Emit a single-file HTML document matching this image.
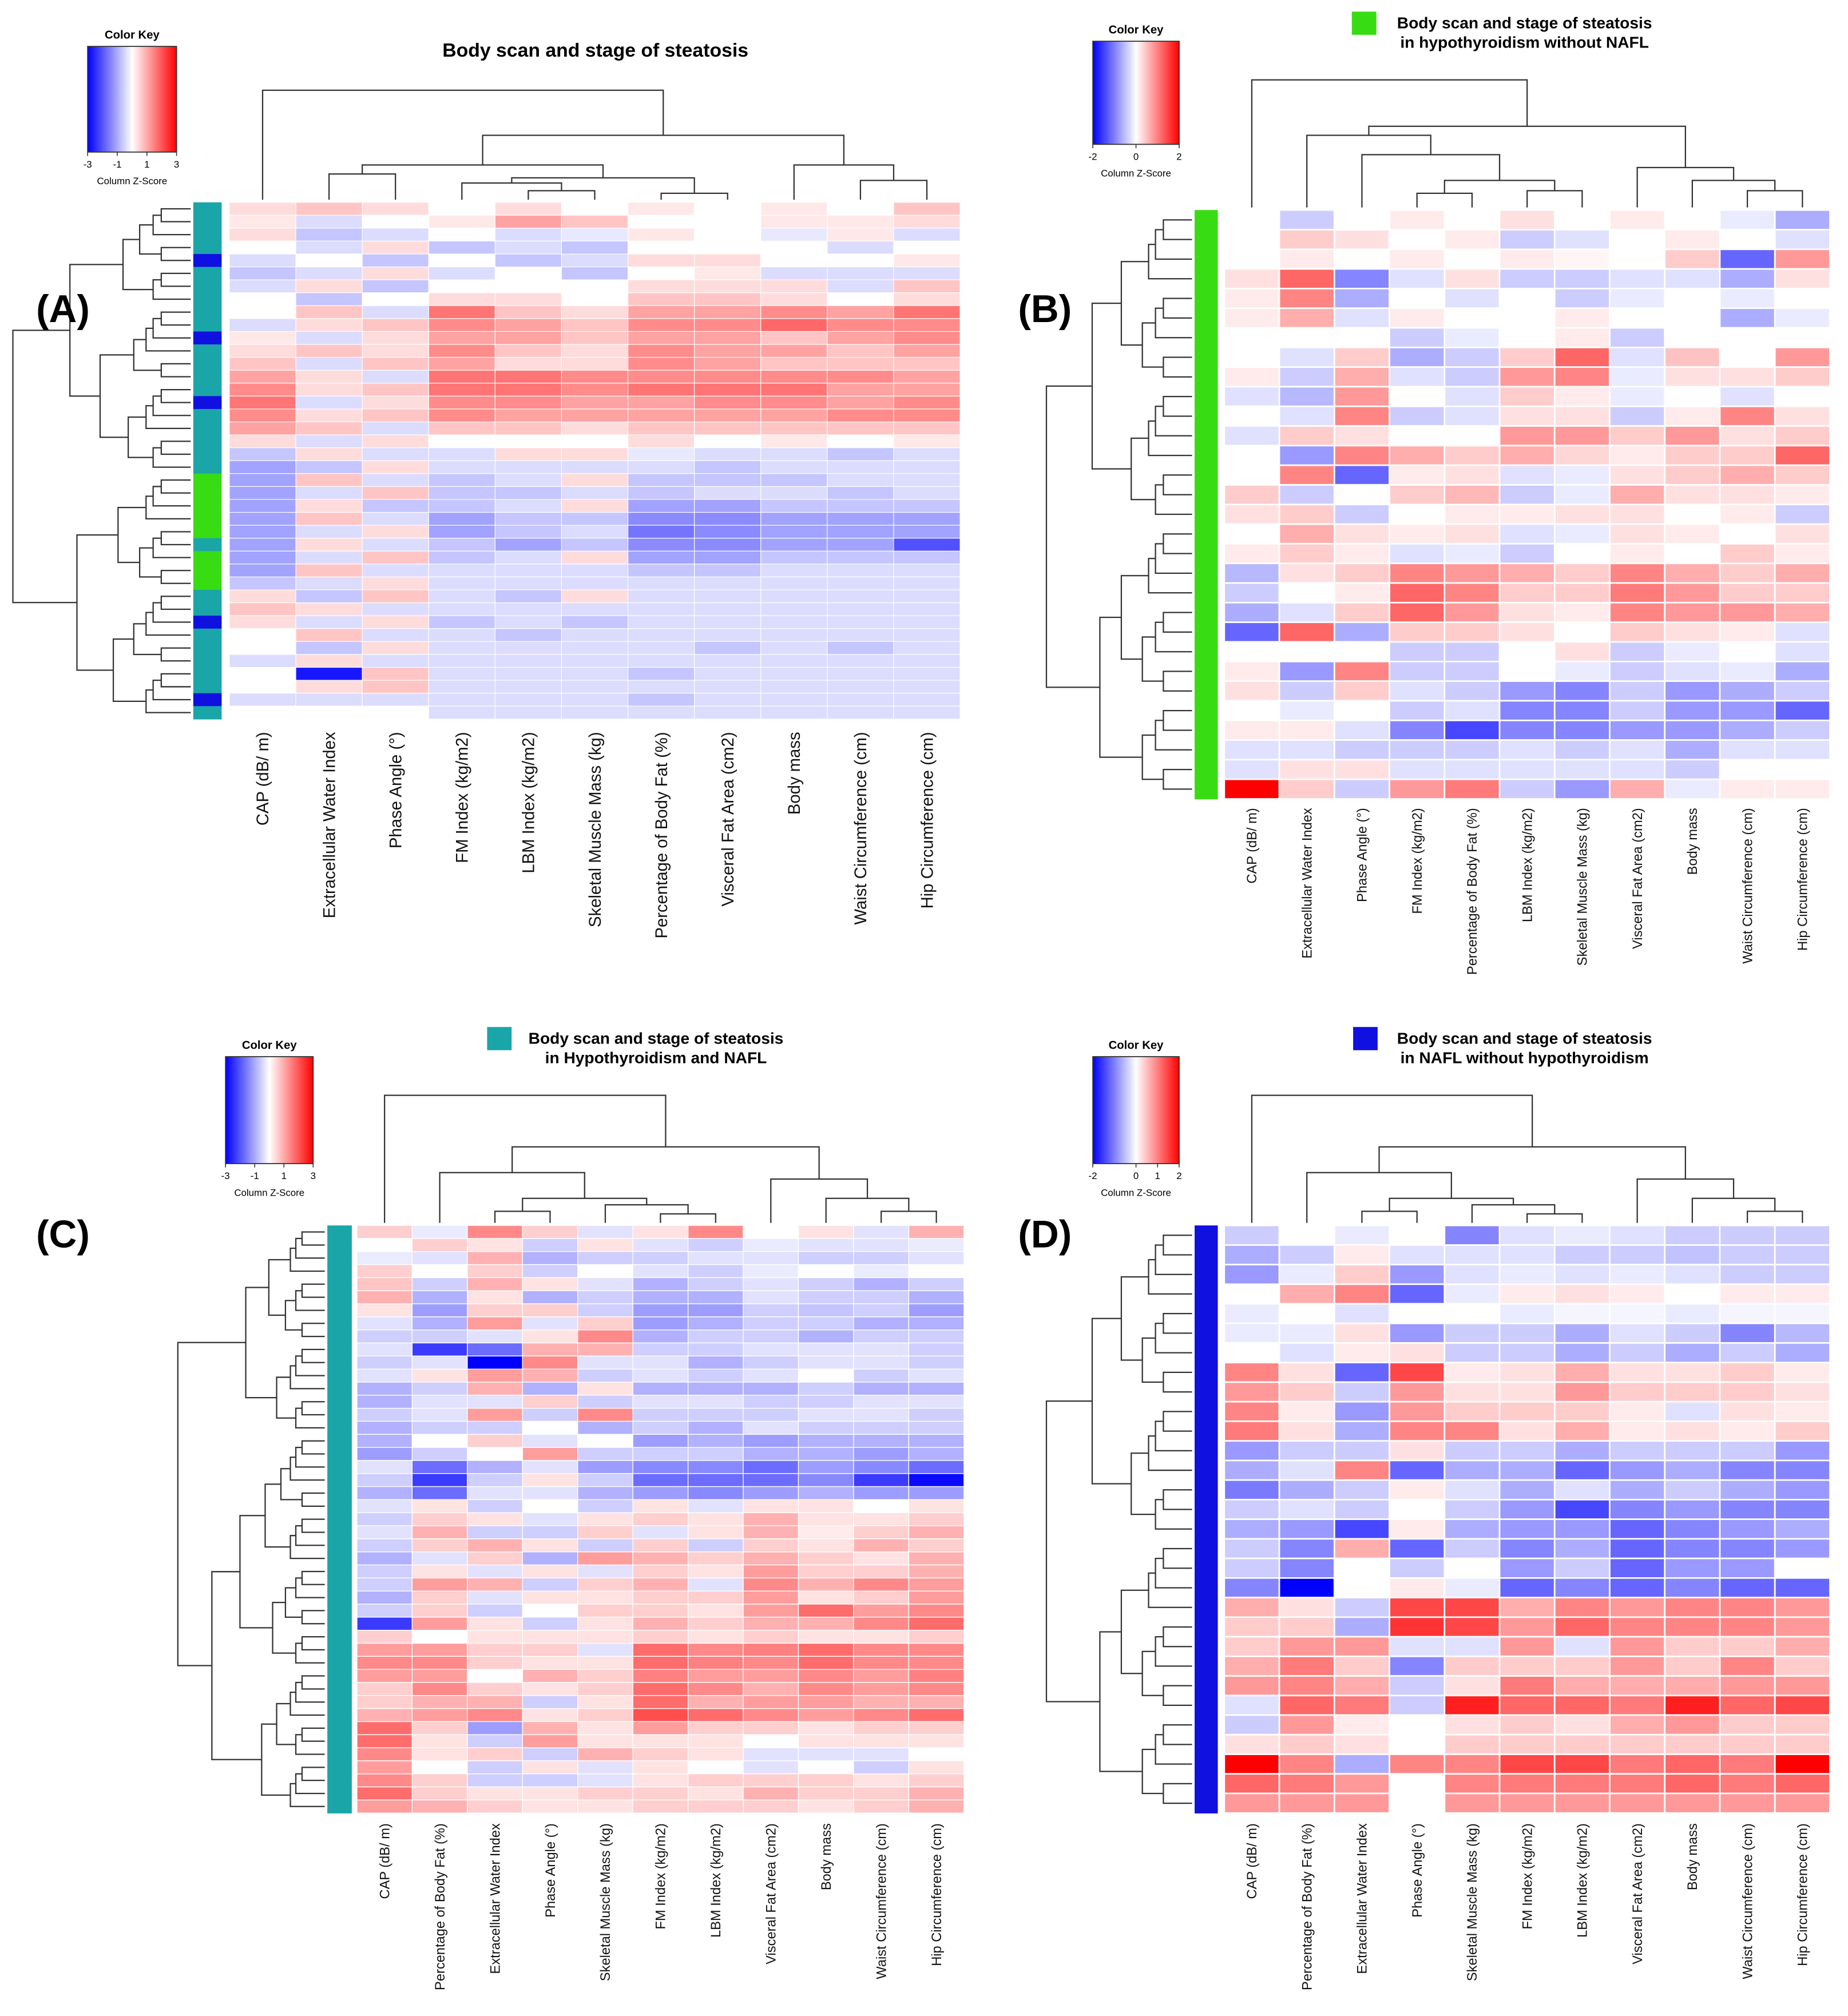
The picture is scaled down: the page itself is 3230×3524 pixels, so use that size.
<!DOCTYPE html>
<html><head><meta charset="utf-8"><style>
html,body{margin:0;padding:0;background:#fff;}
svg{display:block;font-family:"Liberation Sans",sans-serif;}
</style></head><body>
<svg id="fig" xmlns="http://www.w3.org/2000/svg" width="3230" height="3524" viewBox="0 0 1434 1564.5">
<defs>
<linearGradient id="kg" x1="0" x2="1" y1="0" y2="0">
<stop offset="0" stop-color="#0000ff"/><stop offset="0.5" stop-color="#ffffff"/><stop offset="1" stop-color="#ff0000"/>
</linearGradient>
</defs>
<rect width="1434" height="1565" fill="#fff"/>
<g id="layer"></g>
</svg>
<script>
// ---------- DATA ----------
const colsA = ["CAP (dB/ m)","Extracellular Water Index","Phase Angle (°)","FM Index (kg/m2)","LBM Index (kg/m2)","Skeletal Muscle Mass (kg)","Percentage of Body Fat (%)","Visceral Fat Area (cm2)","Body mass","Waist Circumference (cm)","Hip Circumference (cm)"];
const colsB = ["CAP (dB/ m)","Extracellular Water Index","Phase Angle (°)","FM Index (kg/m2)","Percentage of Body Fat (%)","LBM Index (kg/m2)","Skeletal Muscle Mass (kg)","Visceral Fat Area (cm2)","Body mass","Waist Circumference (cm)","Hip Circumference (cm)"];
const colsC = ["CAP (dB/ m)","Percentage of Body Fat (%)","Extracellular Water Index","Phase Angle (°)","Skeletal Muscle Mass (kg)","FM Index (kg/m2)","LBM Index (kg/m2)","Visceral Fat Area (cm2)","Body mass","Waist Circumference (cm)","Hip Circumference (cm)"];
const colsD = colsC;
const keyTicksA = ["-3","-1","1","3"];
const keyTicksB = ["-2","0","2"];
const keyTicksD = ["-2","0","1","2"];

const valuesA = [
[0.3,0.5,0.3,0,0.3,0,0.2,0,0.2,0,0.5],[0.2,-0.3,0,0.2,0.8,0.5,0,0,0.2,0.2,0.3],[0.3,-0.5,-0.3,0,-0.3,-0.2,0.2,0,-0.2,0.2,-0.3],[0,-0.3,0.3,-0.5,-0.3,-0.5,0,0,0,-0.3,0],
[-0.3,0,-0.5,0,-0.5,-0.3,0.3,0.3,0,0,0.2],[-0.5,-0.3,0.3,-0.3,0,-0.5,0,0.2,-0.3,-0.3,-0.3],[-0.3,0.3,-0.5,0,0,0,0.3,0.3,0.3,-0.3,0.5],[0,-0.5,0,0.3,0.3,0,0.5,0.5,0.3,0,0.3],
[0,0.5,-0.3,1.2,0.5,0.3,0.8,0.8,1,0.8,1.2],[-0.3,0.3,0.5,1,0.8,0.5,1,1,1.3,1,1],[0.2,-0.3,0.3,0.8,0.8,0.5,0.8,0.8,0.5,0.8,1],[0.3,0.5,0.3,1,0.5,0.3,1,0.8,0.8,0.5,0.8],
[0.5,-0.3,0.5,0.8,0.3,0.3,1,0.8,0.5,0.5,0.5],[0.8,0.3,-0.3,1.2,1.2,1,1,1,1,1,0.8],[1,0.3,0.5,1.2,1.2,1,1.2,1.2,1.2,0.8,0.8],[1.2,-0.3,0.3,1,1,0.8,0.8,1,1,0.8,1],
[1,0.3,0.5,1,0.8,0.8,0.8,0.8,0.8,1,1],[0.8,0.5,-0.3,0.5,0.5,0.3,0.5,0.5,0.5,0.5,0.5],[0.3,-0.3,0.3,0,0,0,0.3,0,0.2,0,0.2],[-0.5,0.3,-0.3,-0.3,0.3,0.3,-0.2,-0.3,-0.3,-0.5,-0.3],
[-0.8,-0.5,0.3,-0.3,-0.3,-0.3,-0.3,-0.5,-0.3,-0.3,-0.3],[-0.8,0.5,-0.3,-0.5,-0.3,0.3,-0.5,-0.5,-0.5,-0.3,-0.3],[-0.8,-0.3,0.5,-0.5,-0.5,-0.3,-0.5,-0.3,-0.3,-0.5,-0.3],[-0.8,0.3,-0.5,-0.5,-0.3,0.3,-0.8,-0.8,-0.5,-0.5,-0.5],
[-0.8,0.5,-0.3,-0.8,-0.5,-0.5,-1,-1,-0.8,-0.8,-0.8],[-0.8,-0.3,0.3,-0.8,-0.5,-0.3,-1.2,-1,-0.8,-0.8,-0.8],[-0.8,0.3,-0.3,-0.5,-0.8,-0.5,-1,-1,-0.8,-0.8,-1.5],[-0.8,-0.3,0.5,-0.5,-0.3,0.3,-0.8,-0.8,-0.5,-0.5,-0.5],
[-0.8,0.5,-0.3,-0.3,-0.3,-0.3,-0.5,-0.5,-0.3,-0.3,-0.3],[-0.5,-0.3,0.3,-0.3,-0.3,-0.3,-0.3,-0.3,-0.3,-0.3,-0.3],[0.3,-0.5,0.5,-0.3,-0.5,0.3,-0.3,-0.3,-0.3,-0.3,-0.3],[0.5,0.3,-0.3,-0.3,-0.3,-0.3,-0.3,-0.3,-0.3,-0.3,-0.3],
[0.3,-0.3,0.3,-0.5,-0.3,-0.5,-0.3,-0.3,-0.3,-0.3,-0.3],[0,0.5,-0.3,-0.3,-0.5,-0.3,-0.3,-0.3,-0.3,-0.3,-0.3],[0,-0.5,0.3,-0.3,-0.3,-0.3,-0.3,-0.5,-0.3,-0.5,-0.3],[-0.3,0.3,-0.3,-0.3,-0.3,-0.3,-0.3,-0.3,-0.3,-0.3,-0.3],
[0,-2,0.5,-0.3,-0.3,-0.3,-0.5,-0.3,-0.3,-0.3,-0.3],[0,0.3,0.5,-0.3,-0.3,-0.3,-0.3,-0.3,-0.3,-0.3,-0.3],[-0.3,-0.3,-0.3,-0.3,-0.3,-0.3,-0.5,-0.3,-0.3,-0.3,-0.3],[0,0,0,-0.3,-0.3,-0.3,-0.3,-0.3,-0.3,-0.3,-0.3]];
const groupsA = "ttttbtttttbttttbtttttgggggtgggttbtttttbt";

const valuesB = [
[0,-0.5,0,0.2,0,0.3,0,0.2,0,-0.2,-0.8],[0,0.5,0.3,0,0.2,-0.5,-0.3,0,0.2,0,-0.3],[0,0.2,0,0.2,0,0.2,0.1,0,0.5,-1.5,1],[0.3,1.5,-1.2,-0.3,0.3,-0.5,-0.5,-0.3,-0.3,-0.8,0.3],
[0.2,1.2,-0.8,0,-0.3,0,-0.5,-0.2,0,-0.2,0],[0.2,0.8,-0.3,0.2,0,0,0.2,0,0,-0.8,-0.2],[0,0,0,-0.5,-0.2,0,0.2,-0.5,0,0,0],[0,-0.3,0.5,-0.8,-0.5,0.5,1.5,-0.3,0.6,0,1],
[0.2,-0.5,0.8,-0.3,-0.5,1,1.2,-0.2,0.3,0.3,0.5],[-0.3,-0.7,1,0,-0.3,0.5,0.2,-0.2,0,-0.3,0],[0,-0.3,1.2,-0.5,-0.3,0.3,0.3,-0.5,0.2,1.2,0.3],[-0.3,0.5,0.3,0,0,1,1,0.5,1,0.3,0.5],
[0,-1,1.2,0.8,0.5,0.8,0.4,0.2,0.5,0.5,1.5],[0,1.2,-1.5,0.2,0.3,-0.3,-0.2,0.3,0.5,0.8,0.5],[0.5,-0.5,0,0.5,0.7,-0.5,-0.2,0.8,0.3,0.3,0.2],[0.3,0.5,-0.5,0,0.2,0.2,0.3,0.3,0,0.2,-0.5],
[0,0.8,0.3,0.2,0.3,-0.3,-0.2,0.3,0.2,0,0.3],[0.2,0.5,0.2,-0.3,-0.2,-0.5,0,0.2,0,0.5,0.2],[-0.7,0.3,0.5,1.2,1,0.8,0.5,1.2,0.8,0.5,0.8],[-0.5,0,0.2,1.5,1.2,0.5,0.5,1.3,1,0.5,0.5],
[-0.8,-0.3,0.5,1.5,1,0.3,0.2,1.2,1,1,0.8],[-1.5,1.5,-0.8,0.5,0.5,0.3,0,0.5,0.3,0.2,-0.3],[0,0,0,-0.5,-0.5,0,0.3,-0.5,-0.2,0,-0.3],[0.2,-1,1.2,-0.5,-0.5,0,-0.2,-0.5,-0.3,-0.2,-0.8],
[0.3,-0.5,0.5,-0.3,-0.5,-1,-1.2,-0.5,-1,-0.8,-0.5],[0,-0.2,0,-0.5,-0.3,-1.2,-1.2,-0.5,-1,-1,-1.5],[0.2,0.2,-0.3,-1.2,-1.8,-1.2,-1.2,-1,-1,-0.8,-0.5],[-0.3,-0.3,-0.5,-0.5,-0.5,-0.3,-0.5,-0.3,-0.8,-0.3,-0.3],
[-0.3,0.3,0.3,-0.3,-0.3,-0.3,-0.3,-0.3,-0.5,0,0],[2.8,0.5,-0.5,1,1.3,-0.5,-1,0.8,-0.2,0.2,0.2]];

const valuesC = [
[0.5,-0.2,1.2,0.5,-0.3,0.3,1.2,0,0.3,-0.3,0.8],[0,0.5,0.3,-0.5,0.3,-0.3,-0.5,-0.2,-0.3,-0.3,-0.2],[-0.2,-0.3,0.8,-0.8,-0.5,-0.5,-0.3,-0.3,-0.5,-0.5,-0.3],[0.5,0,0.5,-0.5,0,-0.3,-0.5,-0.2,0,-0.2,0],
[0.6,-0.5,0.8,0.3,-0.3,-0.8,-0.5,-0.3,-0.5,-0.8,-0.5],[0.8,-0.8,0.3,-0.8,-0.5,-0.8,-0.8,-0.3,-0.5,-0.5,-0.8],[0.3,-1,0.5,0.5,-0.5,-1,-1,-0.5,-0.6,-0.5,-1],[-0.3,-0.8,1,-0.3,0.5,-1,-0.8,-0.5,-0.5,-0.8,-0.8],
[-0.5,-0.5,-0.3,0.3,1.2,-0.8,-0.5,-0.5,-0.8,-0.5,-0.5],[-0.3,-2,-1.5,0.8,0.8,-0.5,-0.5,-0.3,-0.3,-0.3,-0.5],[-0.5,-0.3,-2.8,1.2,-0.3,-0.3,-0.8,-0.5,-0.3,-0.3,-0.5],[-0.3,0.3,1,0.8,-0.5,-0.3,-0.5,-0.3,0,-0.5,-0.3],
[-0.8,-0.5,0.8,-0.8,0.3,-0.8,-0.8,-0.8,-0.5,-0.8,-0.8],[-0.8,-0.3,-0.3,0.5,-0.5,-0.3,-0.3,-0.5,-0.5,-0.3,-0.3],[-0.5,-0.3,1,-0.5,1.2,-0.5,-0.5,-0.5,-0.3,-0.3,-0.5],[-0.8,-0.5,-0.5,0,-0.8,-0.5,-0.8,-0.3,-0.5,-0.5,-0.5],
[-0.8,0,0.5,-0.3,0,-1,-0.8,-1,-0.8,-0.8,-0.8],[-1,-0.5,0,1,-0.5,-0.5,-0.5,-0.8,-0.8,-1,-0.8],[-0.3,-1.5,-0.8,-0.3,-1,-1.2,-1.2,-1.5,-1,-1.2,-1.5],[-0.5,-2,-0.5,0.3,-0.5,-1.5,-1.5,-1.5,-1.2,-2,-2.5],
[-0.8,-1.5,-0.3,-0.3,-0.8,-1,-1.2,-1,-0.8,-1,-1],[-0.3,0.3,-0.5,0,-0.5,0.3,-0.3,0.3,0.3,0,0.3],[-0.5,0.5,0.3,-0.3,0.3,0.5,0.3,0.8,0.3,0.3,0.5],[-0.3,0.8,-0.5,-0.5,0.5,-0.3,0.3,0.8,0.2,0.5,0.8],
[-0.5,0.5,0.8,0.3,-0.5,0.5,-0.5,0.5,0.3,0.8,0.5],[-0.8,-0.3,0.5,-0.8,1,0.8,0.5,0.8,0.5,0.3,0.8],[-0.5,0.3,-0.3,0.3,-0.3,0.5,0.3,1,0.5,0.5,0.8],[-0.5,1,0.8,-0.5,0.5,0.8,-0.3,1.2,0.8,1.2,1],
[-0.8,0.5,-0.3,0.3,0.3,0.5,0.5,1,0.3,0.5,1],[-0.5,0.5,-0.5,0,0.5,0.5,0.3,1,1.5,1,1.2],[-2,1,0.3,-0.5,0.3,0.8,0.5,0.8,0.8,1.2,1.5],[0.5,0,0.3,0.3,0.3,0.5,0.3,0.5,0.3,0.3,0.5],
[1,1,0.5,0.5,-0.3,1.5,1.2,1.3,1.5,1.2,1.2],[1.2,1.2,0.5,0.3,0.3,1.5,1.3,1.2,1.5,1.2,1.2],[1,1,0,0.8,0.5,1.3,1,1,1.2,1,1.3],[0.5,1.2,0.5,0.3,0.5,1.5,1.2,0.8,1.2,1,1.2],
[0.5,0.8,0.8,-0.5,0.3,1.5,0.8,1,1,0.8,0.8],[0.8,1,1.2,0.3,0.5,1.8,1.5,1.2,1,1.2,1.5],[1.5,0.5,-1,0.8,0.3,1,0.5,0.5,0.3,0.5,0.5],[1.5,0.3,-0.5,1,0.3,0.3,0.3,0,0.3,0.3,0.3],
[1.2,0.3,0.5,-0.5,0.8,0.5,0.3,-0.3,-0.3,-0.3,0],[1,0,-0.5,0.3,-0.3,0.3,0,-0.3,0,-0.5,0.3],[1.2,0.5,-0.5,-0.5,-0.3,0.3,0.5,0.5,0.5,0.3,0.5],[1.5,0.5,0.3,0.3,0.5,0.5,0.3,0.8,0.5,0.5,0.8],
[1,0.8,0.5,0.3,0.3,0.5,0.5,0.5,0.3,0.5,0.8]];

const valuesD = [
[-0.5,0,-0.2,0,-1.2,-0.3,-0.2,-0.3,-0.5,-0.5,-0.5],[-0.8,-0.5,0.2,-0.3,-0.3,-0.3,-0.5,-0.5,-0.6,-0.5,-0.5],[-1,-0.2,0.5,-1,-0.3,-0.2,-0.3,-0.2,-0.3,-0.5,-0.5],[0,0.8,1.2,-1.5,-0.2,0.2,0.3,0.2,0,0.2,0.2],
[-0.2,0,-0.3,0,0,-0.2,-0.1,-0.1,-0.2,-0.1,-0.1],[-0.2,-0.2,0.3,-1,-0.5,-0.5,-0.8,-0.3,-0.5,-1.2,-0.7],[0,-0.3,0.2,0.3,-0.5,-0.5,-0.8,-0.5,-0.8,-0.5,-0.8],[1.2,0.3,-1.5,1.8,0.2,0.3,0.8,0.3,0.3,0.5,0.2],
[1,0.5,-0.5,1,0.3,0.3,1,0.5,0.5,0.5,0.3],[1.2,0.2,-1,1,0.5,0.5,0.5,0.2,-0.3,0.3,0.2],[1.3,0.3,-0.8,1.2,1.2,0.3,0.8,0.2,0.3,0.2,0.5],[-1,-0.5,-0.5,0.3,-0.5,-0.5,-0.8,-0.5,-0.5,-0.5,-1],
[-0.8,-0.3,1.2,-1.5,-0.8,-0.8,-1.5,-1,-0.8,-1.2,-1.2],[-1.3,-0.8,-0.5,0.2,-0.3,-0.8,-0.3,-0.8,-0.5,-0.8,-1],[-0.5,-0.3,-0.5,0,-0.5,-1,-1.8,-1.2,-1,-1.2,-1.2],[-0.8,-1,-1.8,0.2,-0.8,-1,-1,-1.5,-1.2,-1,-0.8],
[-0.5,-1.2,0.8,-1.5,-0.5,-1.2,-0.8,-1.5,-1.2,-1.2,-1],[-0.5,-1.2,0,-0.5,0,-1,-0.5,-1.5,-1,-1,0],[-1.2,-2.5,0,0.2,-0.2,-1.5,-1.2,-1.5,-1.2,-1.5,-1.5],[0.8,0.3,-0.5,1.8,1.8,0.8,1.2,1,1.2,1.2,1],
[0.5,0.5,-0.8,2,1.8,1,1.5,1.2,1.2,1.2,1],[0.5,1,1,-0.3,-0.3,1,-0.3,1,0.5,0.5,0.8],[0.8,1.3,0.5,-1.2,0.5,0.5,0.5,1,0.5,1.2,0.5],[1,1.2,0.8,-0.5,0.3,1.3,0.8,0.8,0.8,1,1],
[-0.3,1.5,1.3,-0.5,2.2,1.5,1.5,1.3,2.2,1.5,1.8],[-0.5,1,0.2,0,0.3,0.5,0.3,0.8,1,0.5,0.5],[0.3,0.5,0.3,0,0.5,0.5,0.5,0.5,0.5,0.5,0.5],[2.5,1.2,-0.8,1.2,1.2,1.8,1.8,1.3,1.5,1.3,2.5],
[1.5,1.3,1,0,1.2,1.3,1.3,1.3,1.5,1.3,1.5],[1,1,1,0,1,1,1,1,1,1,1]];

// column dendrogram topology: [left, right, mergeY]
const treeA = [0,[[[1,2,135],[[3,[4,5,148],142],[6,7,150],138],128],[8,[9,10,140],128],105],70];
const treeB = [0,[[1,[2,[[3,4,150],[5,6,148],140],120],105],[7,[8,[9,10,148],140],130],98],62];
const treeC = [0,[[1,[[2,3,940],[4,[5,6,942],935],930],910],[7,[8,[9,10,940],930],915],890],850];
const treeD = [0,[[1,[[2,3,940],[4,[5,6,942],935],930],910],[7,[8,[9,10,940],930],915],890],850];

// ---------- DRAWING ----------
const NS = "http://www.w3.org/2000/svg";
const layer = document.getElementById('layer');
function mk(tag, attrs, parent){ const e=document.createElementNS(NS,tag); for(const k in attrs) e.setAttribute(k,attrs[k]); (parent||layer).appendChild(e); return e; }
function color(v, sat){ let t=Math.max(-1,Math.min(1,v/sat)); if(t>=0){const g=Math.round(255*(1-t)); return `rgb(255,${g},${g})`;} const g=Math.round(255*(1+t)); return `rgb(${g},${g},255)`; }
const groupColor = {t:"#1aa6a8", b:"#1010e0", g:"#38dc12"};

function drawColTree(tree, xOf, baseY, g){
  function rec(n){
    if(typeof n==="number") return {x:xOf(n), y:baseY};
    const a=rec(n[0]), b=rec(n[1]), h=n[2];
    const p = mk('path',{d:`M${a.x},${a.y}V${h}H${b.x}V${b.y}`,fill:"none",stroke:"#333","stroke-width":1},g);
    
    
    return {x:(a.x+b.x)/2, y:h};
  }
  rec(tree);
}
function drawRowTree(n, yOf, xLeaf, xRoot, g){
  function rec(lo,hi){
    if(lo===hi) return {y:yOf(lo), x:xLeaf};
    const size=hi-lo+1;
    const frac = [0.5,0.42,0.58,0.35,0.5,0.62][size%6];
    let mid = lo + Math.max(0, Math.min(size-2, Math.round((size-1)*frac)));
    const a=rec(lo,mid), b=rec(mid+1,hi);
    const x = xLeaf - (xLeaf-xRoot)*Math.pow(size/n,0.6);
    const p = mk('path',{d:`M${a.x},${a.y}H${x}V${b.y}H${b.x}`,fill:"none",stroke:"#333","stroke-width":1},g);
    
    
    return {y:(a.y+b.y)/2, x:x};
  }
  rec(0,n-1);
}
function drawKey(x,y,w,h,ticks,g){
  const kg = mk('g',{},g);
  
  
  const t=mk('text',{x:x+w/2,y:y-6,"font-size":9,"font-weight":"bold","text-anchor":"middle"},kg); t.textContent="Color Key";
  mk('rect',{x:x,y:y,width:w,height:h,fill:"url(#kg)",stroke:"#333","stroke-width":0.8},kg);
  const n=ticks.length;
  ticks.forEach((s,i)=>{
    const v=parseFloat(s), mx=parseFloat(ticks[n-1]);
    const tx = x + w*(0.5 + 0.5*v/Math.max(mx,Math.abs(parseFloat(ticks[0]))));
    mk('line',{x1:tx,x2:tx,y1:y+h,y2:y+h+3,stroke:"#333","stroke-width":0.7},kg);
    const tt=mk('text',{x:tx,y:y+h+12,"font-size":7.5,"text-anchor":"middle"},kg); tt.textContent=s;
  });
  const z=mk('text',{x:x+w/2,y:y+h+25,"font-size":7.5,"text-anchor":"middle"},kg); z.textContent="Column Z-Score";
}

function panel(cfg){
  const g = mk('g',{});
  
  
  const nr=cfg.values.length, nc=cfg.cols.length;
  const cw=(cfg.x1-cfg.x0)/nc, rh=(cfg.y1-cfg.y0)/nr;
  const xOf=j=>cfg.x0+cw*(j+0.5), yOf=i=>cfg.y0+rh*(i+0.5);
  cfg.values.forEach((row,i)=>row.forEach((v,j)=>{
    const r=mk('rect',{x:cfg.x0+cw*j,y:cfg.y0+rh*i,width:cw,height:rh,fill:color(v,cfg.sat),stroke:"#fff","stroke-width":cfg.gap},g);
    
    
  }));
  for(let i=0;i<nr;i++){
    const k = cfg.groups ? cfg.groups[i] : cfg.group;
    const r=mk('rect',{x:cfg.bx0,y:cfg.y0+rh*i,width:cfg.bx1-cfg.bx0,height:rh+0.3,fill:groupColor[k]},g);
    
    
  }
  cfg.cols.forEach((c,j)=>{
    const t=mk('text',{x:0,y:0,"font-size":cfg.fs,"text-anchor":"end",transform:`translate(${xOf(j)+cfg.fs*0.35},${cfg.labY}) rotate(-90)`,fill:"#111"},g);
    t.textContent=c;
    
    
  });
  drawColTree(cfg.tree, xOf, cfg.y0-2, g);
  drawRowTree(nr, yOf, cfg.bx0-2, cfg.dx0, g);
  drawKey(cfg.kx,cfg.ky,cfg.kw,cfg.kh,cfg.ticks,g);
  const p=mk('text',{x:cfg.px,y:cfg.py,"font-size":30,"font-weight":"bold"},g); p.textContent=cfg.label;
  
  
  if(cfg.title2){
    const sq=mk('rect',{x:cfg.sqx,y:cfg.sqy,width:19,height:18,fill:groupColor[cfg.group]},g);
    
    
  }
  const t1=mk('text',{x:cfg.tx,y:cfg.ty,"font-size":cfg.tfs,"font-weight":"bold","text-anchor":"middle"},g); t1.textContent=cfg.title;
  
  
  if(cfg.title2){ const t2=mk('text',{x:cfg.tx,y:cfg.ty+15,"font-size":cfg.tfs,"font-weight":"bold","text-anchor":"middle"},g); t2.textContent=cfg.title2;
    
     }
}

panel({name:"panel-a",values:valuesA,cols:colsA,groups:groupsA,x0:178,x1:745,y0:157,y1:558,bx0:150,bx1:172,dx0:10,sat:2.2,gap:0.5,fs:13,labY:568,tree:treeA,
  kx:68,ky:36,kw:69,kh:82,ticks:keyTicksA,label:"(A)",px:28,py:250,tx:462,ty:44,tfs:15,title:"Body scan and  stage of steatosis"});
panel({name:"panel-b",values:valuesB,cols:colsB,group:"g",x0:950,x1:1420,y0:163,y1:620,bx0:927,bx1:945,dx0:812,sat:2.5,gap:1.2,fs:10.5,labY:627,tree:treeB,
  kx:848,ky:32,kw:67,kh:80,ticks:keyTicksB,label:"(B)",px:790,py:250,sqx:1049,sqy:9,tx:1183,ty:22,tfs:12.5,title:"Body scan and  stage of steatosis",title2:"in hypothyroidism without NAFL"});
panel({name:"panel-c",values:valuesC,cols:colsC,group:"t",x0:277,x1:748,y0:951,y1:1407,bx0:254,bx1:273,dx0:138,sat:2.6,gap:0.6,fs:10.5,labY:1415,tree:treeC,
  kx:175,ky:820,kw:68,kh:83,ticks:keyTicksA,label:"(C)",px:28,py:968,sqx:378,sqy:797,tx:509,ty:810,tfs:12.5,title:"Body scan and  stage of steatosis",title2:"in Hypothyroidism and NAFL"});
panel({name:"panel-d",values:valuesD,cols:colsD,group:"b",x0:950,x1:1420,y0:951,y1:1407,bx0:927,bx1:945,dx0:812,sat:2.5,gap:1.2,fs:10.5,labY:1415,tree:treeD,
  kx:848,ky:820,kw:67,kh:83,ticks:keyTicksD,label:"(D)",px:790,py:968,sqx:1050,sqy:797,tx:1183,ty:810,tfs:12.5,title:"Body scan and  stage of steatosis",title2:"in NAFL without hypothyroidism"});
</script>
</body></html>
